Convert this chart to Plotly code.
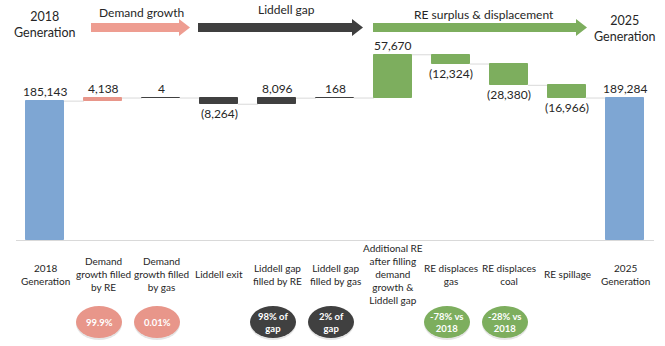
import plotly.graph_objects as go

# ---- data -------------------------------------------------------------
categories = [
    "2018<br>Generation",
    "Demand<br>growth filled<br>by RE",
    "Demand<br>growth filled<br>by gas",
    "Liddell exit",
    "Liddell gap<br>filled by RE",
    "Liddell gap<br>filled by gas",
    "Additional RE<br>after filling<br>demand<br>growth &<br>Liddell gap",
    "RE displaces<br>gas",
    "RE displaces<br>coal",
    "RE spillage",
    "2025<br>Generation",
]
values = [185143, 4138, 4, -8264, 8096, 168, 57670, -12324, -28380, -16966, 189284]
measures = ["total", "relative", "relative", "relative", "relative", "relative",
            "relative", "relative", "relative", "relative", "total"]

BLUE = "#7EA6D3"
SALMON = "#E8968A"
DARK = "#404040"
GREEN = "#7DAE5E"
bar_colors = [BLUE, SALMON, DARK, DARK, DARK, DARK, GREEN, GREEN, GREEN, GREEN, BLUE]

badge_cats = [1, 2, 4, 5, 7, 8]
badge_texts = ["99.9%", "0.01%", "98% of<br>gap", "2% of<br>gap", "-78% vs<br>2018", "-28% vs<br>2018"]
badge_colors = [SALMON, SALMON, DARK, DARK, GREEN, GREEN]

group_titles = ["Demand growth", "Liddell gap", "RE surplus & displacement"]
group_colors = ["#EE9D91", "#3F3F3F", "#7DAE5E"]

# ---- layout geometry (pixels) -----------------------------------------
W, H = 665, 346
ML, MR, MT, MB = 16, 11, 0, 106
PW, PH = W - ML - MR, H - MT - MB
FONT = "Lato"
TXT = "#262626"


def px(p):
    return (p - ML) / PW


def py(p):
    return (PH + MT - p) / PH


# ---- waterfall geometry -----------------------------------------------
idx = list(range(len(values)))
bases, heights, levels = [], [], []
running = 0
for v, m in zip(values, measures):
    if m == "total":
        bases.append(0)
        heights.append(v)
        running = v
    else:
        bases.append(running)
        heights.append(v)
        running += v
    levels.append(running)

BAR_W = 0.655

fig = go.Figure()
fig.add_trace(go.Bar(
    x=idx, y=heights, base=bases, width=BAR_W,
    marker=dict(color=bar_colors, line=dict(color=bar_colors, width=1)),
    hoverinfo="skip", showlegend=False,
))

shapes = []
annotations = []

# connectors between consecutive bars
for i in range(len(values) - 1):
    shapes.append(dict(type="line", xref="x", yref="y",
                       x0=i + BAR_W / 2, x1=i + 1 - BAR_W / 2,
                       y0=levels[i], y1=levels[i],
                       line=dict(color="#D9D9D9", width=1), layer="below"))

# value labels
for i, (v, b) in enumerate(zip(values, bases)):
    label = f"{v:,}" if v >= 0 else f"({-v:,})"
    annotations.append(dict(x=i, y=b + v, xref="x", yref="y", text=label,
                            showarrow=False, xanchor="center",
                            yanchor="bottom" if v >= 0 else "top",
                            font=dict(family=FONT, size=12, color=TXT)))

# category labels below the axis
for i, c in enumerate(categories):
    annotations.append(dict(x=i, y=py(274), xref="x", yref="paper", text=c,
                            showarrow=False, xanchor="center", yanchor="middle",
                            align="center",
                            font=dict(family=FONT, size=10, color=TXT)))

# badges
for c, t, col in zip(badge_cats, badge_texts, badge_colors):
    common = dict(type="circle", xref="x", yref="paper",
                  xsizemode="pixel", ysizemode="pixel", xanchor=c)
    shapes.append(dict(**common, yanchor=py(324), x0=-27, x1=19, y0=-16, y1=16,
                       fillcolor="rgba(0,0,0,0.10)", line=dict(width=0)))
    shapes.append(dict(**common, yanchor=py(322), x0=-27, x1=19, y0=-16, y1=16,
                       fillcolor=col, line=dict(width=0)))
    annotations.append(dict(x=c, xshift=-4, y=py(322), xref="x", yref="paper",
                            text=f"<b>{t}</b>", showarrow=False,
                            xanchor="center", yanchor="middle",
                            font=dict(family=FONT, size=9.5, color="white")))

# group arrows along the top
arrows = [(91, 190, 27.5), (198, 363, 27.5), (373, 587, 27.5)]
title_pos = [(141, 12), (286, 10), (484, 14)]
for (x0, x1, yc), col, title, (tx, ty) in zip(arrows, group_colors, group_titles, title_pos):
    bh, hh, hl = 4.5, 8.5, 11
    pts = [(x0, yc - bh), (x1 - hl, yc - bh), (x1 - hl, yc - hh), (x1, yc),
           (x1 - hl, yc + hh), (x1 - hl, yc + bh), (x0, yc + bh)]
    path = "M " + " L ".join(f"{px(a):.5f},{py(b):.5f}" for a, b in pts) + " Z"
    shapes.append(dict(type="path", xref="paper", yref="paper", path=path,
                       fillcolor=col, line=dict(width=0)))
    annotations.append(dict(x=px(tx), y=py(ty), xref="paper", yref="paper",
                            text=title, showarrow=False,
                            xanchor="center", yanchor="middle",
                            font=dict(family=FONT, size=12, color=TXT)))

# start / end headers
annotations.append(dict(x=0, y=py(25), xref="x", yref="paper",
                        text="2018<br>Generation", showarrow=False,
                        xanchor="center", yanchor="middle",
                        font=dict(family=FONT, size=12.5, color=TXT)))
annotations.append(dict(x=10, y=py(28), xref="x", yref="paper",
                        text="2025<br>Generation", showarrow=False,
                        xanchor="center", yanchor="middle",
                        font=dict(family=FONT, size=12.5, color=TXT)))

fig.update_layout(
    width=W, height=H,
    margin=dict(l=ML, r=MR, t=MT, b=MB),
    paper_bgcolor="white", plot_bgcolor="white",
    xaxis=dict(range=[-0.5, len(values) - 0.5], showticklabels=False, ticks="",
               showgrid=False, zeroline=False, showline=True,
               linecolor="#D9D9D9", linewidth=1, fixedrange=True),
    yaxis=dict(range=[0, 320000], visible=False, fixedrange=True),
    shapes=shapes, annotations=annotations, bargap=0,
    font=dict(family=FONT),
)

fig.write_html("out.html")
